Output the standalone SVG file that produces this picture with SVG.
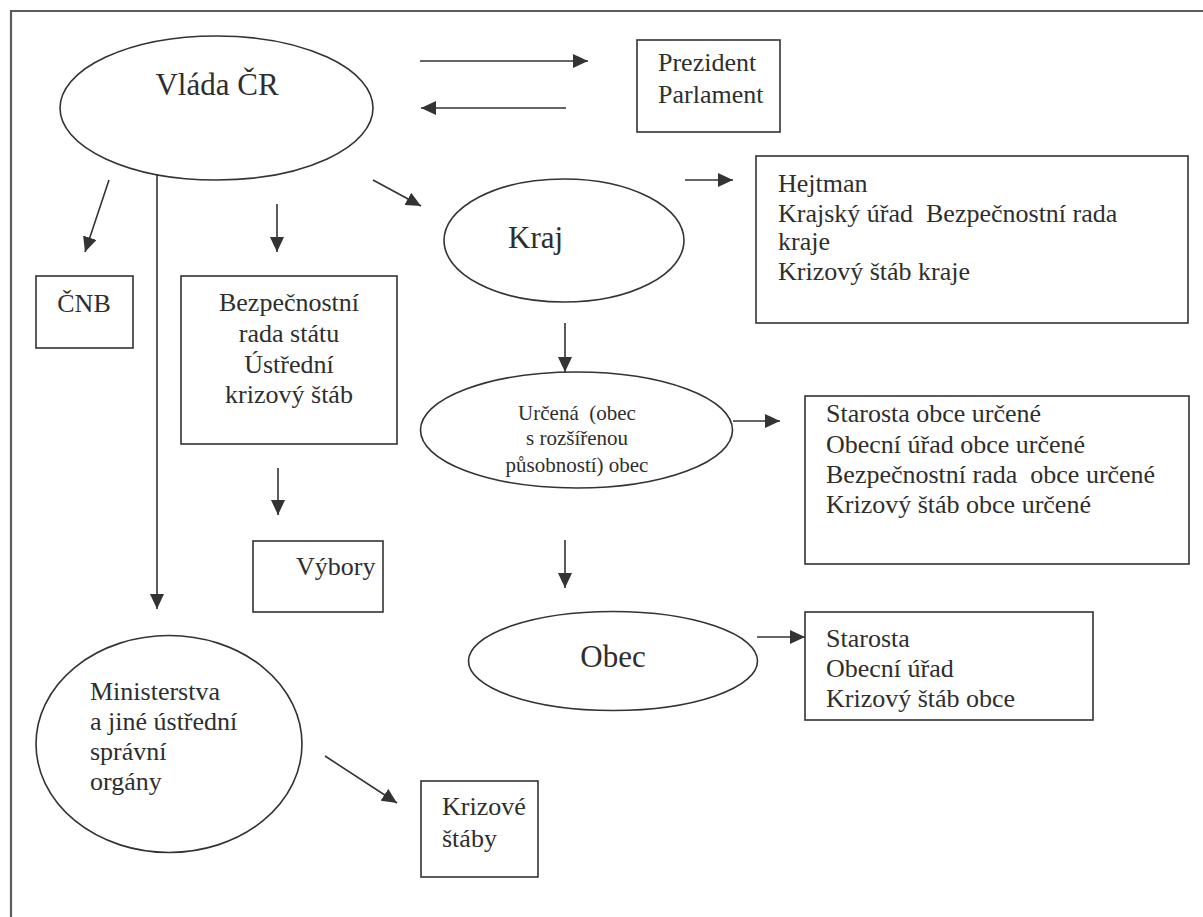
<svg xmlns="http://www.w3.org/2000/svg" width="1203" height="917" viewBox="0 0 1203 917" font-family="'Liberation Serif', 'Times New Roman', serif">
  <style>
    .shape { fill: none; stroke: #333; stroke-width: 1.6; }
    .frame { fill: none; stroke: #5f5957; stroke-width: 2.2; }
    .link { fill: none; stroke: #333; stroke-width: 1.6; marker-end: url(#head); }
    text { font-family: "Liberation Serif", "Times New Roman", serif; fill: #2e2e2e; font-size: 26px; }
    .big { font-size: 31px; }
    .small { font-size: 21px; }
    .mid { text-anchor: middle; }
  </style>
  <defs>
    <marker id="head" viewBox="0 0 15 14" markerWidth="15" markerHeight="14" refX="15" refY="7" orient="auto" markerUnits="userSpaceOnUse">
      <path d="M0,0 L15,7 L0,14 Z" fill="#333"/>
    </marker>
  </defs>
  <rect width="1203" height="917" fill="#fff"/>

  <!-- page frame: only top and left edges fall inside the sheet -->
  <path class="frame" d="M11,917 V11 H1203"/>

  <g id="vlada">
    <ellipse class="shape" cx="216.5" cy="108" rx="156.5" ry="72"/>
    <text class="big mid" x="217" y="95">Vláda ČR</text>
  </g>

  <g id="prezident">
    <rect class="shape" x="637" y="40" width="143" height="92"/>
    <text x="658" y="71">Prezident</text>
    <text x="658" y="103">Parlament</text>
  </g>

  <g id="kraj">
    <ellipse class="shape" cx="564" cy="240.5" rx="120" ry="61.5"/>
    <text class="big" x="508" y="248">Kraj</text>
  </g>

  <g id="hejtman">
    <rect class="shape" x="756" y="156" width="432" height="167"/>
    <text x="778" y="192">Hejtman</text>
    <text x="778" y="222" xml:space="preserve">Krajský úřad  Bezpečnostní rada</text>
    <text x="778" y="250">kraje</text>
    <text x="778" y="280">Krizový štáb kraje</text>
  </g>

  <g id="cnb">
    <rect class="shape" x="36" y="276" width="97" height="72"/>
    <text class="mid" x="84" y="312">ČNB</text>
  </g>

  <g id="brs">
    <rect class="shape" x="181" y="276" width="216" height="168"/>
    <text class="mid" x="289" y="311">Bezpečnostní</text>
    <text class="mid" x="289" y="342">rada státu</text>
    <text class="mid" x="289" y="373">Ústřední</text>
    <text class="mid" x="289" y="403">krizový štáb</text>
  </g>

  <g id="vybory">
    <rect class="shape" x="253" y="541" width="130" height="71"/>
    <text x="296" y="575">Výbory</text>
  </g>

  <g id="urcena">
    <ellipse class="shape" cx="576.5" cy="430" rx="156" ry="58"/>
    <text class="small mid" x="577" y="420" xml:space="preserve">Určená  (obec</text>
    <text class="small mid" x="577" y="445">s rozšířenou</text>
    <text class="small mid" x="577" y="472">působností) obec</text>
  </g>

  <g id="starosta-urcene">
    <rect class="shape" x="805" y="396" width="384" height="168"/>
    <text x="826" y="422">Starosta obce určené</text>
    <text x="826" y="453">Obecní úřad obce určené</text>
    <text x="826" y="483" xml:space="preserve">Bezpečnostní rada  obce určené</text>
    <text x="826" y="513">Krizový štáb obce určené</text>
  </g>

  <g id="obec">
    <ellipse class="shape" cx="613" cy="661" rx="144.5" ry="49.5"/>
    <text class="big mid" x="613" y="667">Obec</text>
  </g>

  <g id="starosta">
    <rect class="shape" x="805" y="612" width="288" height="108"/>
    <text x="826" y="647">Starosta</text>
    <text x="826" y="677">Obecní úřad</text>
    <text x="826" y="707">Krizový štáb obce</text>
  </g>

  <g id="ministerstva">
    <ellipse class="shape" cx="169" cy="744" rx="133" ry="108.5"/>
    <text x="90" y="700">Ministerstva</text>
    <text x="90" y="730">a jiné ústřední</text>
    <text x="90" y="760">správní</text>
    <text x="90" y="790">orgány</text>
  </g>

  <g id="krizove-staby">
    <rect class="shape" x="421" y="781" width="117" height="96"/>
    <text x="442" y="815">Krizové</text>
    <text x="442" y="847">štáby</text>
  </g>

  <g id="connectors">
    <line class="link" x1="420" y1="61" x2="588" y2="61"/>
    <line class="link" x1="566" y1="108" x2="421" y2="108"/>
    <line class="link" x1="373" y1="180" x2="421" y2="206"/>
    <line class="link" x1="685" y1="180" x2="733" y2="180"/>
    <line class="link" x1="109" y1="180" x2="85" y2="252"/>
    <line class="link" x1="157" y1="174" x2="157" y2="609"/>
    <line class="link" x1="277" y1="204" x2="277" y2="252"/>
    <line class="link" x1="278" y1="468" x2="278" y2="515"/>
    <line class="link" x1="565" y1="323" x2="565" y2="372"/>
    <line class="link" x1="733" y1="421" x2="780" y2="421"/>
    <line class="link" x1="565" y1="540" x2="565" y2="588"/>
    <line class="link" x1="757" y1="637" x2="805" y2="637"/>
    <line class="link" x1="325" y1="756" x2="397" y2="803"/>
  </g>
</svg>
